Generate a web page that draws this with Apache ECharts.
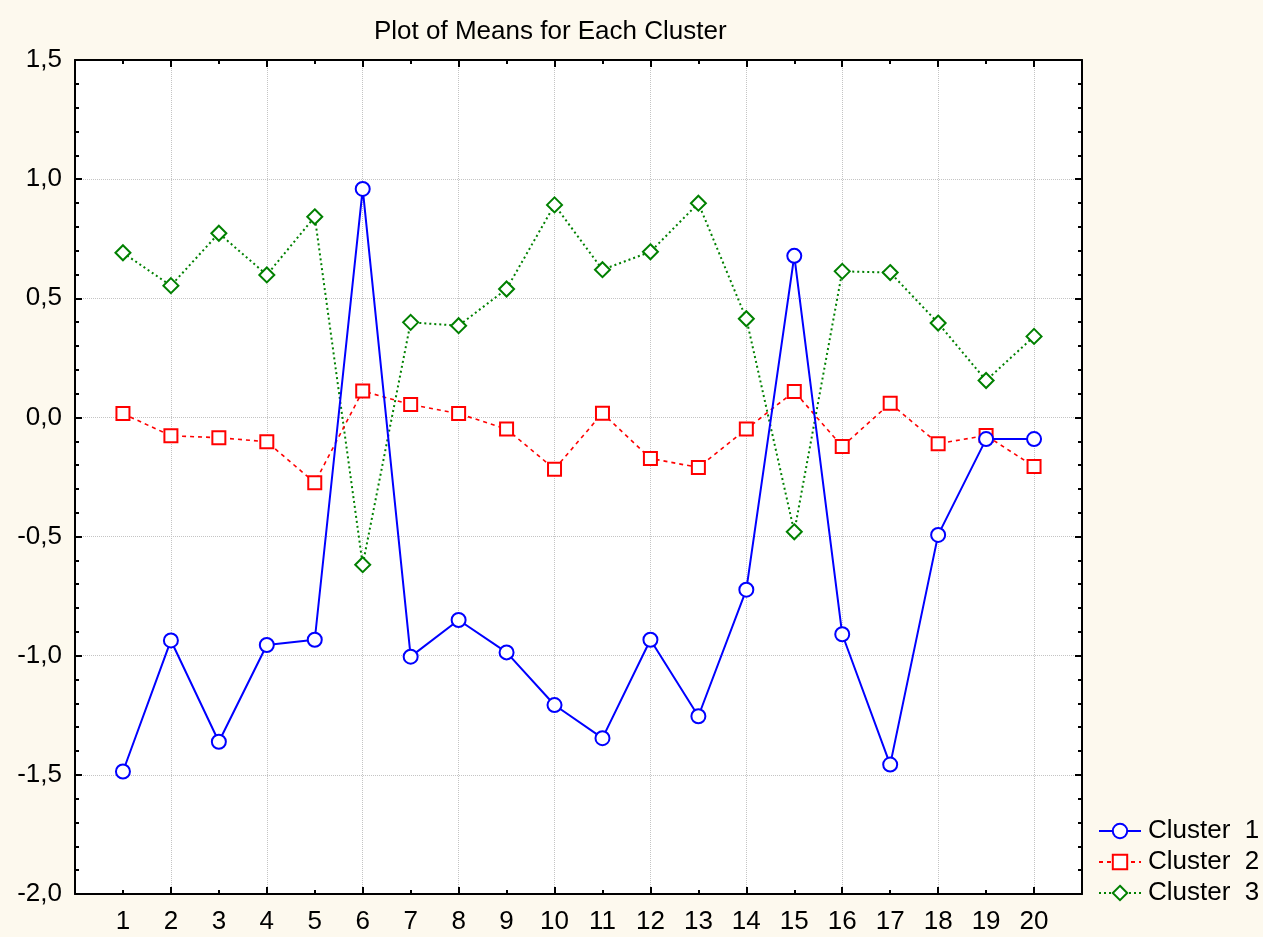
<!DOCTYPE html>
<html>
<head>
<meta charset="utf-8">
<script src="https://cdn.jsdelivr.net/npm/echarts@6/dist/echarts.min.js"></script>
<style>
html,body{margin:0;padding:0;background:#fdf9ee;}
#c{width:1263px;height:937px;}
</style>
</head>
<body>
<div id="c"></div>
<script>
var variables = [1,2,3,4,5,6,7,8,9,10,11,12,13,14,15,16,17,18,19,20];
var cluster1 = [-1.486,-0.936,-1.361,-0.955,-0.933,0.959,-1.004,-0.850,-0.986,-1.207,-1.346,-0.933,-1.254,-0.723,0.678,-0.910,-1.457,-0.493,-0.091,-0.091];
var cluster2 = [0.016,-0.077,-0.085,-0.102,-0.274,0.111,0.054,0.016,-0.049,-0.217,0.018,-0.172,-0.210,-0.049,0.109,-0.122,0.059,-0.110,-0.076,-0.206];
var cluster3 = [0.691,0.553,0.773,0.598,0.842,-0.618,0.399,0.385,0.539,0.892,0.620,0.695,0.899,0.414,-0.480,0.613,0.608,0.396,0.155,0.340];
var seriesNames = ['Cluster  1','Cluster  2','Cluster  3'];

function pairs(vals){ return variables.map(function(v,i){ return [v, vals[i]]; }); }

var chart = echarts.init(document.getElementById('c'));
var font = 'Liberation Sans, Arial, sans-serif';
var FS = 26;
var gridLine = {show:true, lineStyle:{color:'#c4c4c4', type:[1,1], width:1}};
function xAx(pos, labels){
  return {
    type:'value', position:pos, min:0, max:21, interval:2,
    axisLine:{show:true, onZero:false, lineStyle:{color:'#000', width:2}},
    axisTick:{show:true, inside:true, length:7, lineStyle:{color:'#000', width:2}},
    minorTick:{show:true, splitNumber:2, length:4, lineStyle:{color:'#000', width:2}},
    splitLine: labels ? gridLine : {show:false},
    axisLabel: labels ? {show:true, customValues:variables, color:'#000', fontSize:FS, fontFamily:font, margin:15} : {show:false}
  };
}
function yAx(pos, labels){
  return {
    type:'value', position:pos, min:-2, max:1.5, interval:0.5,
    axisLine:{show:true, onZero:false, lineStyle:{color:'#000', width:2}},
    axisTick:{show:true, inside:true, length:7, lineStyle:{color:'#000', width:2}},
    minorTick:{show:true, splitNumber:5, length:4, lineStyle:{color:'#000', width:2}},
    splitLine: labels ? gridLine : {show:false},
    axisLabel: labels ? {show:true, color:'#000', fontSize:FS, fontFamily:font, margin:13,
      formatter:function(v){ return v.toFixed(1).replace('.', ','); }} : {show:false}
  };
}

chart.setOption({
  backgroundColor:'#fdf9ee',
  animation:false,
  title:{text:'Plot of Means for Each Cluster', left:369, top:14,
    textStyle:{fontSize:FS, fontWeight:'normal', color:'#000', fontFamily:font}},
  grid:{left:75, right:181, top:60, bottom:43, show:true, backgroundColor:'#fff', borderWidth:0},
  legend:{orient:'vertical', left:1093, top:813, itemWidth:42, itemHeight:18, itemGap:5,
    textStyle:{fontSize:FS, fontFamily:font, color:'#000', lineHeight:26, padding:[0,0,0,2]},
    data:seriesNames},
  xAxis:[xAx('bottom', true), xAx('top', false)],
  yAxis:[yAx('left', true), yAx('right', false)],
  series:[
    {name:seriesNames[0], type:'line', data:pairs(cluster1), symbol:'emptyCircle', symbolSize:14,
     lineStyle:{color:'#0000ff', width:2, type:'solid'}, itemStyle:{color:'#0000ff', borderWidth:2}, z:4},
    {name:seriesNames[1], type:'line', data:pairs(cluster2), symbol:'emptyRect', symbolSize:13,
     lineStyle:{color:'#ff0000', width:1.6, type:[4,4]}, itemStyle:{color:'#ff0000', borderWidth:2}, z:3},
    {name:seriesNames[2], type:'line', data:pairs(cluster3), symbol:'emptyDiamond', symbolSize:[15,15],
     lineStyle:{color:'#008000', width:2, type:[2,3]}, itemStyle:{color:'#008000', borderWidth:1.5}, z:2}
  ]
});
</script>
</body>
</html>
